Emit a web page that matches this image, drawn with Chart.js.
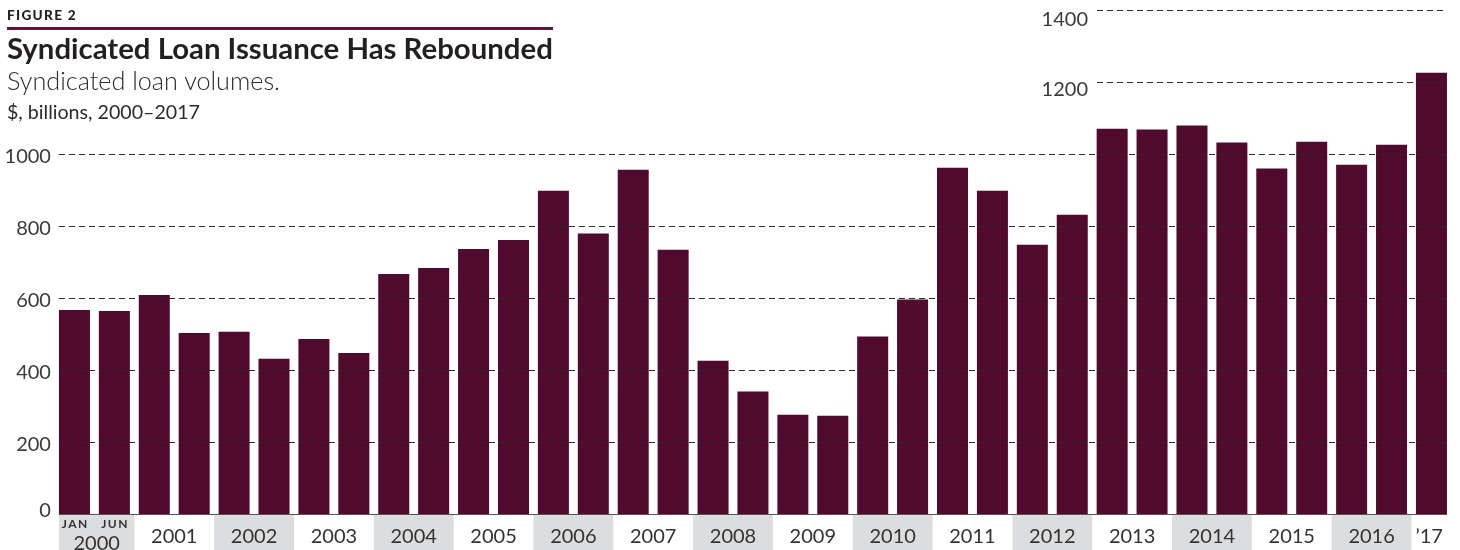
<!DOCTYPE html>
<html><head><meta charset="utf-8">
<script src="https://cdn.jsdelivr.net/npm/chart.js@4"></script>
<style>
html,body{margin:0;padding:0;background:#fff;}
#wrap{position:relative;width:1460px;height:550px;overflow:hidden;font-family:Lato,sans-serif;}
#c{position:absolute;left:0;top:0;}
.t{position:absolute;left:7px;top:0;white-space:nowrap;line-height:1;color:#231f20;display:inline-block;}
.bl{display:inline-block;width:0;height:0;vertical-align:baseline;}
#rule{position:absolute;left:7px;top:27px;width:546px;height:2.5px;background:#5e1434;}
</style></head><body>
<div id="wrap">
<canvas id="c" width="1460" height="550"></canvas>
<div class="t" id="fig" style="font-weight:900;font-size:14px;letter-spacing:1.3px;">FIGURE 2<span class="bl"></span></div>
<div id="rule"></div>
<div class="t" id="title" style="font-weight:700;font-size:31px;">Syndicated Loan Issuance Has Rebounded<span class="bl"></span></div>
<div class="t" id="sub" style="font-weight:300;font-size:21px;color:#2b2b2b;">Syndicated loan volumes.<span class="bl"></span></div>
<div class="t" id="unit" style="font-weight:400;font-size:17px;color:#2b2b2b;">$, billions, 2000–2017<span class="bl"></span></div>
</div>
<script>
// ---- data ----
const categories = ['2000-1','2000-2','2001-1','2001-2','2002-1','2002-2','2003-1','2003-2','2004-1','2004-2','2005-1','2005-2','2006-1','2006-2','2007-1','2007-2','2008-1','2008-2','2009-1','2009-2','2010-1','2010-2','2011-1','2011-2','2012-1','2012-2','2013-1','2013-2','2014-1','2014-2','2015-1','2015-2','2016-1','2016-2','2017-1'];
const values = [567,564,608,503,506,431,486,447,667,683,736,761,898,779,956,734,426,340,276,273,493,596,962,898,748,831,1070,1068,1079,1032,960,1034,970,1026,1226];
const yearKeys = ['2000','2001','2002','2003','2004','2005','2006','2007','2008','2009','2010','2011','2012','2013','2014','2015','2016','2017'];
const yearLabels = ['2000','2001','2002','2003','2004','2005','2006','2007','2008','2009','2010','2011','2012','2013','2014','2015','2016','\u201917'];
const firstYearSubLabels = ['JAN','JUN'];
const yTicks = [0,200,400,600,800,1000,1200,1400];

// ---- HTML text fitting ----
function place(id, targetW, baseline){
  const el = document.getElementById(id);
  let fs = parseFloat(el.style.fontSize);
  for(let k=0;k<4;k++){
    const w = el.getBoundingClientRect().width;
    fs = fs*targetW/w;
    el.style.fontSize = fs+'px';
  }
  el.style.top = '0px';
  const b = el.querySelector('.bl');
  const bTop = b.getBoundingClientRect().top - el.getBoundingClientRect().top;
  el.style.top = (baseline - bTop)+'px';
}
place('fig', 70, 20);
place('title', 546, 59.3);
place('sub', 273, 90);
place('unit', 193, 118.5);

// ---- chart ----
const labelOffsets = {0:3, 1200:14, 1400:16};
const custom = {
  id:'custom',
  beforeDatasetsDraw(chart){
    const {ctx, scales:{x,y}} = chart;
    const bars = chart.getDatasetMeta(0).data;
    const firstLeft = bars[0].x - bars[0].width/2;
    const lastRight = bars[bars.length-1].x + bars[bars.length-1].width/2;
    const half = (x.getPixelForValue(1)-x.getPixelForValue(0))/2;
    const py0 = y.getPixelForValue(0);
    ctx.save();
    yearKeys.forEach((yr,gi)=>{
      const idx = categories.map((c,i)=>c.startsWith(yr)?i:-1).filter(i=>i>=0);
      const l = Math.max(firstLeft, x.getPixelForValue(idx[0])-half);
      const r = Math.min(lastRight+half, x.getPixelForValue(idx[idx.length-1])+half);
      if(gi%2===0 && gi<yearKeys.length-1){
        ctx.fillStyle='#dcdddf';
        ctx.fillRect(l, py0+1, r-l, chart.height-py0);
      }
    });
    ctx.restore();
  },
  afterDatasetsDraw(chart){
    const {ctx, scales:{x,y}} = chart;
    const bars = chart.getDatasetMeta(0).data;
    const firstLeft = bars[0].x - bars[0].width/2;
    const lastRight = bars[bars.length-1].x + bars[bars.length-1].width/2;
    const half = (x.getPixelForValue(1)-x.getPixelForValue(0))/2;
    const py0 = y.getPixelForValue(0);
    ctx.save();
    // gridlines
    ctx.setLineDash([6,4]); ctx.lineWidth=1.2; ctx.strokeStyle='#2b2b2b';
    yTicks.forEach(v=>{
      if(v===0) return;
      const py = Math.round(y.getPixelForValue(v))+0.5;
      const xs = v>1000 ? 1097 : firstLeft;
      ctx.beginPath(); ctx.moveTo(xs,py); ctx.lineTo(lastRight,py); ctx.stroke();
    });
    ctx.setLineDash([]);
    // axis line
    ctx.strokeStyle='#555'; ctx.lineWidth=1.2;
    ctx.beginPath(); ctx.moveTo(firstLeft, Math.round(py0)+0.5); ctx.lineTo(lastRight, Math.round(py0)+0.5); ctx.stroke();
    // y labels
    ctx.font='400 20px Lato'; ctx.fillStyle='#3a3a3a'; ctx.textBaseline='alphabetic';
    ctx.textAlign='right';
    yTicks.forEach(v=>{
      const py = y.getPixelForValue(v);
      const off = labelOffsets[v]!==undefined ? labelOffsets[v] : 8.5;
      ctx.fillText(String(v), v>1000 ? 1088 : firstLeft-8, py+off);
    });
    // x labels
    ctx.textAlign='center';
    yearKeys.forEach((yr,gi)=>{
      const idx = categories.map((c,i)=>c.startsWith(yr)?i:-1).filter(i=>i>=0);
      const l = Math.max(firstLeft, x.getPixelForValue(idx[0])-half);
      const r = Math.min(lastRight, x.getPixelForValue(idx[idx.length-1])+half);
      const cx = (l+r)/2;
      ctx.fillStyle='#333';
      if(gi===0){
        ctx.font='400 20px Lato';
        ctx.fillText(yearLabels[gi], cx, py0+36);
        ctx.font='700 12px Lato';
        ctx.letterSpacing='1.5px';
        idx.forEach((i,k)=>ctx.fillText(firstYearSubLabels[k], x.getPixelForValue(i)+0.75, py0+14.3));
        ctx.letterSpacing='0px';
      } else {
        ctx.font='400 20px Lato';
        ctx.fillText(yearLabels[gi], cx, py0+29.3);
      }
    });
    ctx.restore();
  }
};

new Chart(document.getElementById('c'), {
  type:'bar',
  data:{labels:categories, datasets:[{data:values, backgroundColor:'#4f0a2d', borderWidth:0, barPercentage:0.777, categoryPercentage:1}]},
  options:{
    responsive:false, animation:false, events:[],
    layout:{padding:{left:54.5, right:8.6, top:10, bottom:36}},
    plugins:{legend:{display:false}, tooltip:{enabled:false}, title:{display:false}},
    scales:{x:{display:false}, y:{display:false, min:0, max:1400}}
  },
  plugins:[custom]
});
</script>
</body></html>
